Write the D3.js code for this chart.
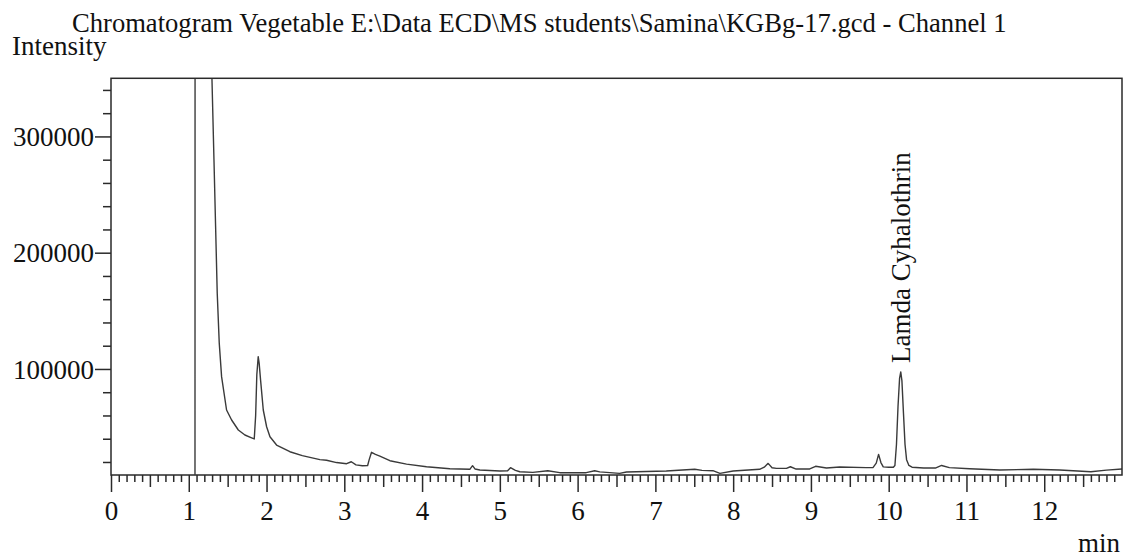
<!DOCTYPE html>
<html>
<head>
<meta charset="utf-8">
<script src="https://cdn.jsdelivr.net/npm/d3@7"></script>
<style>
  html, body { margin: 0; padding: 0; background: #fff; }
  svg { display: block; }
  text { font-family: "Liberation Serif", "Times New Roman", serif; fill: #111; }
</style>
</head>
<body>
<svg id="chart" width="1125" height="557"></svg>
<script>
// ---- data ----
const times = [
  1.080, 1.083, 1.290, 1.298, 1.324, 1.345, 1.366, 1.392, 1.422, 1.486, 1.551, 1.637, 1.722, 1.800, 1.842,
  1.860, 1.875, 1.893, 1.905, 1.924, 1.958, 2.001, 2.044, 2.129, 2.300, 2.460, 2.558, 2.686, 2.772, 2.900,
  3.030, 3.090, 3.150, 3.232, 3.300, 3.320, 3.350, 3.400, 3.457, 3.586, 3.800, 4.057, 4.357, 4.614, 4.649,
  4.680, 4.743, 5.000, 5.100, 5.137, 5.200, 5.257, 5.424, 5.617, 5.770, 6.110, 6.220, 6.285, 6.540, 6.628,
  7.140, 7.506, 7.600, 7.740, 7.830, 8.000, 8.340, 8.400, 8.450, 8.500, 8.556, 8.685, 8.736, 8.810, 8.985,
  9.060, 9.200, 9.370, 9.710, 9.800, 9.840, 9.870, 9.900, 9.930, 10.000, 10.060, 10.080, 10.100, 10.120,
  10.140, 10.155, 10.170, 10.190, 10.210, 10.230, 10.260, 10.300, 10.450, 10.600, 10.680, 10.780, 11.040,
  11.430, 11.860, 12.200, 12.600, 12.800, 13.000
];
const intensity = [
  9000, 1200000, 1200000, 350000, 279900, 222500, 165100, 122100, 93400, 64700, 56100, 47500, 43200, 41000, 39800,
  60000, 95000, 110600, 105000, 90000, 64700, 50300, 41700, 34600, 28800, 25500, 24000, 22000, 21500, 19500,
  18500, 20200, 17500, 16800, 17000, 22000, 28300, 26500, 25100, 21100, 18200, 15900, 14200, 13700, 16800,
  14000, 13100, 12200, 12500, 15100, 12800, 11600, 11100, 12500, 10800, 10800, 12500, 11500, 10200, 11400,
  12200, 13700, 12800, 12500, 10200, 12200, 13700, 15500, 18800, 15000, 14500, 14500, 15900, 13900, 14000,
  16300, 14800, 15700, 15100, 15300, 19000, 26500, 19500, 15800, 15500, 15500, 17000, 35000, 68000,
  92000, 97500, 90000, 62000, 35000, 22000, 17000, 15500, 14800, 14800, 17000, 15100, 14200,
  13100, 13700, 13100, 11600, 13000, 13900
];
const xTickLabels = [0, 1, 2, 3, 4, 5, 6, 7, 8, 9, 10, 11, 12];
const yTickLabels = [100000, 200000, 300000];
const titleText = "Chromatogram Vegetable E:\\Data ECD\\MS students\\Samina\\KGBg-17.gcd - Channel 1";
const yAxisTitle = "Intensity";
const xAxisTitle = "min";
const peakLabels = [{ t: 10.155, name: "Lamda Cyhalothrin" }];

// ---- layout ----
const svg = d3.select("#chart");
const L = 111, R = 1122, T = 78.3, B = 475;
const x = d3.scaleLinear().domain([0, 13]).range([L, R]);
const y = d3.scaleLinear().domain([8800, 350000]).range([B, T]);
const ink = "#2a2a2a";

// clip
svg.append("defs").append("clipPath").attr("id", "plotclip")
  .append("rect").attr("x", L).attr("y", T).attr("width", R - L).attr("height", B - T);

// trace
const pts = times.map((t, i) => [t, intensity[i]]);
const line = d3.line().x(d => x(d[0])).y(d => y(d[1]));
svg.append("path")
  .attr("clip-path", "url(#plotclip)")
  .attr("d", line(pts))
  .attr("fill", "none")
  .attr("stroke", "#3a3a3a")
  .attr("stroke-width", 1.4)
  .attr("stroke-linejoin", "round");

// frame
svg.append("rect").attr("x", L).attr("y", T).attr("width", R - L).attr("height", B - T)
  .attr("fill", "none").attr("stroke", ink).attr("stroke-width", 1.5);

// x axis ticks
const minorX = d3.range(0, 131).filter(i => i % 5 !== 0).map(i => i / 10);
const halfX = d3.range(0, 26).filter(i => i % 2 === 1).map(i => i / 2);
function styleAxis(g) {
  g.select(".domain").remove();
  g.selectAll(".tick line").attr("stroke", ink).attr("stroke-width", 1.5);
}
svg.append("g").attr("transform", `translate(0,${B})`)
  .call(d3.axisBottom(x).tickValues(minorX).tickSize(7).tickFormat(""))
  .call(styleAxis);
svg.append("g").attr("transform", `translate(0,${B})`)
  .call(d3.axisBottom(x).tickValues(halfX).tickSize(12).tickFormat(""))
  .call(styleAxis);
const gx = svg.append("g").attr("transform", `translate(0,${B})`)
  .call(d3.axisBottom(x).tickValues(xTickLabels).tickSize(17).tickFormat(d3.format("d")))
  .call(styleAxis);
gx.selectAll(".tick text").attr("y", 45).attr("dy", 0)
  .style("font-family", '"Liberation Serif", serif').style("font-size", "27px").attr("fill", "#111");

// y axis ticks
const minorY = d3.range(20000, 350000, 20000).filter(v => v % 100000 !== 0);
svg.append("g").attr("transform", `translate(${L},0)`)
  .call(d3.axisLeft(y).tickValues(minorY).tickSize(8).tickFormat(""))
  .call(styleAxis);
const gy = svg.append("g").attr("transform", `translate(${L},0)`)
  .call(d3.axisLeft(y).tickValues(yTickLabels).tickSize(16).tickPadding(1).tickFormat(d3.format("d")))
  .call(styleAxis);
gy.selectAll(".tick text").attr("dy", "0.34em")
  .style("font-family", '"Liberation Serif", serif').style("font-size", "27px").attr("fill", "#111");

// titles
svg.append("text").attr("x", 72).attr("y", 31.5).style("font-size", "26.6px").text(titleText);
svg.append("text").attr("x", 12).attr("y", 55).style("font-size", "27px").text(yAxisTitle);
svg.append("text").attr("x", R - 2).attr("y", 552).attr("text-anchor", "end").style("font-size", "27px").text(xAxisTitle);

// peak label
peakLabels.forEach(p => {
  svg.append("text")
    .attr("transform", `translate(${x(p.t) + 9},363) rotate(-90)`)
    .style("font-size", "27px")
    .text(p.name);
});
</script>
</body>
</html>
